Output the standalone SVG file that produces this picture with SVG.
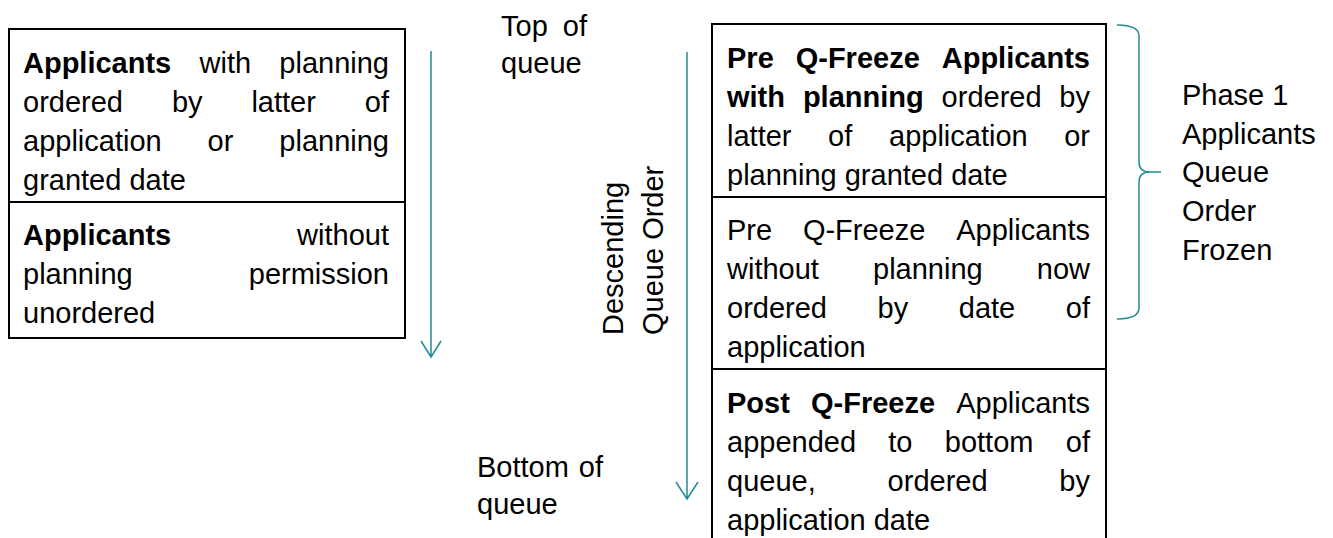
<svg xmlns="http://www.w3.org/2000/svg" width="1333" height="538" viewBox="0 0 1333 538">
<style>
text{font-family:"Liberation Sans",Arial,sans-serif;font-size:29px;fill:#000}
.b{font-weight:bold}
.box{fill:#fff;stroke:#000;stroke-width:2}
.div{stroke:#000;stroke-width:2}
.teal{fill:none;stroke:#238C96;stroke-width:1.5}
</style>
<rect width="1333" height="538" fill="#fff"/>
<g id="old-queue">
<rect class="box" x="9" y="29" width="396" height="309"/>
<line class="div" x1="9" y1="202" x2="405" y2="202"/>
<text y="73"><tspan x="23" class="b">Applicants</tspan><tspan x="199.5">with</tspan></text>
<text y="73" x="389" text-anchor="end">planning</text>
<text y="112"><tspan x="23">ordered</tspan><tspan x="171.9">by</tspan><tspan x="251.4">latter</tspan></text>
<text y="112" x="389" text-anchor="end">of</text>
<text y="151"><tspan x="23">application</tspan><tspan x="207.6">or</tspan></text>
<text y="151" x="389" text-anchor="end">planning</text>
<text y="190" x="23">granted date</text>
<text y="245" x="23" class="b">Applicants</text>
<text y="245" x="389" text-anchor="end">without</text>
<text y="284" x="23">planning</text>
<text y="284" x="389" text-anchor="end">permission</text>
<text y="323" x="23">unordered</text>
</g>
<g id="queue-labels">
<text y="36" x="501">Top</text>
<text y="36" x="587" text-anchor="end">of</text>
<text y="73" x="501">queue</text>
<text y="477" x="477">Bottom</text>
<text y="477" x="603" text-anchor="end">of</text>
<text y="514" x="477">queue</text>
<text transform="rotate(-90 623 335)" x="623" y="335">Descending</text>
<text transform="rotate(-90 663 335)" x="663" y="335">Queue Order</text>
</g>
<g id="new-queue">
<rect class="box" x="712" y="24" width="394" height="530"/>
<line class="div" x1="712" y1="197" x2="1106" y2="197"/>
<line class="div" x1="712" y1="369" x2="1106" y2="369"/>
<text y="68" class="b"><tspan x="727">Pre</tspan><tspan x="795.7">Q-Freeze</tspan></text>
<text y="68" x="1090" class="b" text-anchor="end">Applicants</text>
<text y="107"><tspan x="727" class="b">with</tspan><tspan x="802.9" class="b">planning</tspan><tspan x="941.6">ordered</tspan></text>
<text y="107" x="1090" text-anchor="end">by</text>
<text y="146"><tspan x="727">latter</tspan><tspan x="828.1">of</tspan><tspan x="889">application</tspan></text>
<text y="146" x="1090" text-anchor="end">or</text>
<text y="185" x="727">planning granted date</text>
<text y="240"><tspan x="727">Pre</tspan><tspan x="802.9">Q-Freeze</tspan></text>
<text y="240" x="1090" text-anchor="end">Applicants</text>
<text y="279"><tspan x="727">without</tspan><tspan x="873">planning</tspan></text>
<text y="279" x="1090" text-anchor="end">now</text>
<text y="318"><tspan x="727">ordered</tspan><tspan x="877.5">by</tspan><tspan x="958.8">date</tspan></text>
<text y="318" x="1090" text-anchor="end">of</text>
<text y="357" x="727">application</text>
<text y="413"><tspan x="727" class="b">Post</tspan><tspan x="811" class="b">Q-Freeze</tspan></text>
<text y="413" x="1090" text-anchor="end">Applicants</text>
<text y="452"><tspan x="727">appended</tspan><tspan x="888.3">to</tspan><tspan x="944.8">bottom</tspan></text>
<text y="452" x="1090" text-anchor="end">of</text>
<text y="491"><tspan x="727">queue,</tspan><tspan x="887.6">ordered</tspan></text>
<text y="491" x="1090" text-anchor="end">by</text>
<text y="530" x="727">application date</text>
</g>
<g id="phase-label">
<text x="1182" y="105">Phase 1</text>
<text x="1182" y="144">Applicants</text>
<text x="1182" y="182">Queue</text>
<text x="1182" y="221">Order</text>
<text x="1182" y="260">Frozen</text>
</g>
<g id="connectors">
<path class="teal" d="M431,51 V357 M421,341 L431,357 L441,341"/>
<path class="teal" d="M687,52 V499 M676,482 L687,499 L698,482"/>
<path class="teal" d="M1117,25 Q1139,25 1139,36 V162 Q1139,172 1150,172 H1161 M1150,172 Q1139,172 1139,182 V308 Q1139,319 1117,319"/>
</g>
</svg>
